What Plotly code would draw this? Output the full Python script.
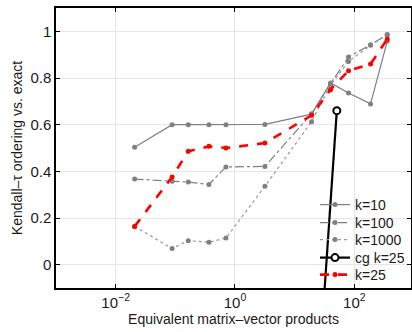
import plotly.graph_objects as go

# Equivalent matrix-vector products (x positions shared by the series)
x_vals = [0.0208, 0.0883, 0.165, 0.366, 0.705, 3.17, 19.2, 39.9, 80, 187, 356]

k10 = [0.503, 0.600, 0.600, 0.600, 0.600, 0.601, 0.645, 0.779, 0.736, 0.689, 0.957]
k100 = [0.367, 0.358, 0.354, 0.344, 0.419, 0.421, 0.647, 0.775, 0.890, 0.943, 0.986]
k1000 = [0.164, 0.069, 0.103, 0.096, 0.114, 0.336, 0.613, 0.770, 0.871, 0.940, 0.985]
k25 = [0.164, 0.376, 0.486, 0.507, 0.500, 0.521, 0.640, 0.750, 0.831, 0.860, 0.967]

cg_x = [19.2, 50.9]
cg_k25 = [-0.92, 0.66]

x_ticks = [0.01, 1, 100]
x_tick_text = ["10<sup>\u22122</sup>", "10<sup>0</sup>", "10<sup>2</sup>"]
y_ticks = [0, 0.2, 0.4, 0.6, 0.8, 1]
y_tick_text = ["0", "0.2", "0.4", "0.6", "0.8", "1"]

gray = "#808080"
font = "Liberation Sans, Arial, sans-serif"

fig = go.Figure()
fig.add_trace(go.Scatter(x=x_vals, y=k10, name="k=10", mode="lines+markers",
                         line=dict(color=gray, width=1.2, dash="solid"),
                         marker=dict(size=5, color=gray), legend="legend"))
fig.add_trace(go.Scatter(x=x_vals, y=k100, name="k=100", mode="lines+markers",
                         line=dict(color=gray, width=1.2, dash="dashdot"),
                         marker=dict(size=5, color=gray), legend="legend2"))
fig.add_trace(go.Scatter(x=x_vals, y=k1000, name="k=1000", mode="lines+markers",
                         line=dict(color="#999999", width=1.2, dash="dot"),
                         marker=dict(size=5, color=gray), legend="legend3"))
fig.add_trace(go.Scatter(x=cg_x, y=cg_k25, name="cg k=25", mode="lines+markers",
                         line=dict(color="black", width=2.2),
                         marker=dict(size=7, color="white", symbol="circle",
                                     line=dict(color="black", width=2)),
                         legend="legend4"))
fig.add_trace(go.Scatter(x=x_vals, y=k25, name="k=25", mode="lines+markers",
                         line=dict(color="red", width=2.6, dash="dash"),
                         marker=dict(size=5, color="red"), legend="legend5"))

plot_top, plot_bottom = 8, 288
legend_rows = [205, 223, 240, 258, 275]


def legend_cfg(yc):
    return dict(x=(315 - 56) / 355, y=(plot_bottom - yc) / (plot_bottom - plot_top),
                xanchor="left", yanchor="middle",
                bgcolor="rgba(255,255,255,0)", borderwidth=0,
                font=dict(size=14), itemwidth=30)


fig.update_layout(
    width=412, height=332,
    margin=dict(l=56, r=1, t=8, b=44, autoexpand=False),
    paper_bgcolor="white", plot_bgcolor="white",
    font=dict(family=font, size=14, color="#1a1a1a"),
    showlegend=True,
    legend=legend_cfg(legend_rows[0]),
    legend2=legend_cfg(legend_rows[1]),
    legend3=legend_cfg(legend_rows[2]),
    legend4=legend_cfg(legend_rows[3]),
    legend5=legend_cfg(legend_rows[4]),
)
fig.update_xaxes(
    type="log", range=[-3, 2.95], tickvals=x_ticks, ticktext=x_tick_text,
    showgrid=True, gridcolor="#e6e6e6", gridwidth=1,
    showline=True, linecolor="black", linewidth=1.5, mirror="ticks",
    ticks="inside", ticklen=4, tickcolor="black",
    tickfont=dict(size=15), zeroline=False, automargin=False,
    title=dict(text="Equivalent matrix\u2013vector products", font=dict(size=14), standoff=2),
)
fig.update_yaxes(
    range=[-0.1, 1.1], tickvals=y_ticks, ticktext=y_tick_text,
    showgrid=True, gridcolor="#e6e6e6", gridwidth=1,
    showline=True, linecolor="black", linewidth=1.5, mirror="ticks",
    ticks="inside", ticklen=4, tickcolor="black",
    tickfont=dict(size=15), zeroline=False, automargin=False,
    title=dict(text="Kendall\u2013\u03c4 ordering vs. exact", font=dict(size=14), standoff=4),
)

fig.write_html("out.html", config={"displayModeBar": False},
               post_script="document.body.style.margin='0';")
